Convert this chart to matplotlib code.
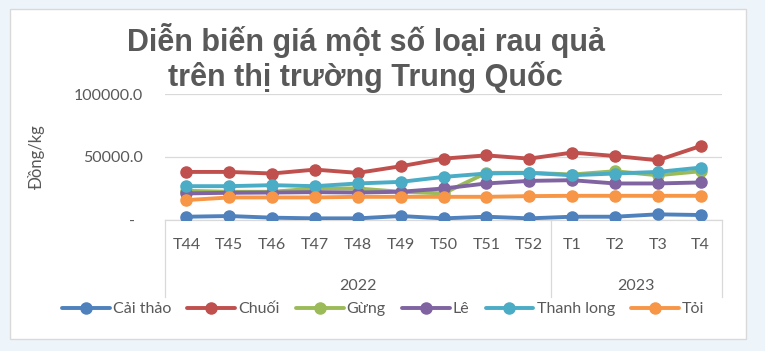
import matplotlib.pyplot as plt
import matplotlib.transforms as mtransforms
from matplotlib.patches import Rectangle

weeks = ["T44", "T45", "T46", "T47", "T48", "T49", "T50", "T51", "T52", "T1", "T2", "T3", "T4"]
years = ["2022", "2023"]
n_2022 = 9

cai_thao = [2600, 3150, 1850, 1300, 1300, 3150, 1300, 2600, 1300, 2600, 2600, 4500, 3950]
chuoi = [38150, 38150, 36900, 40000, 37400, 42650, 48700, 51300, 48700, 53500, 50800, 47400, 58700]
gung = [23150, 22400, 22400, 25000, 25000, 22400, 21100, 37400, 37500, 36100, 38700, 35500, 38700]
le = [21100, 21600, 21800, 22100, 21800, 22400, 25000, 29000, 31050, 31600, 29000, 29000, 29800]
thanh_long = [26850, 26850, 27650, 26850, 29000, 30250, 34200, 36900, 37400, 35500, 36900, 38150, 41600]
toi = [15800, 17900, 17900, 17900, 18400, 18400, 18400, 18400, 18950, 19200, 19200, 19200, 19200]

series = [
    ("Cải thảo", cai_thao, "#4F81BD"),
    ("Chuối", chuoi, "#C0504D"),
    ("Gừng", gung, "#9BBB59"),
    ("Lê", le, "#8064A2"),
    ("Thanh long", thanh_long, "#4BACC6"),
    ("Tỏi", toi, "#F79646"),
]

txt = "#595959"
plt.rcParams["font.family"] = ["Lato", "DejaVu Sans"]

fig = plt.figure(figsize=(7.65, 3.51), dpi=100)
fig.patch.set_facecolor("#EEF5FA")
fig.patches.append(Rectangle((10 / 765, 1 - 339 / 351), 736 / 765, 330 / 351,
                             transform=fig.transFigure, facecolor="white",
                             edgecolor="#D9D9D9", linewidth=1, zorder=-5))

ax = fig.add_axes([165 / 765, 1 - 220 / 351, 557 / 765, 126 / 351])
ax.set_facecolor("none")

x = list(range(len(weeks)))
for name, vals, col in series:
    ax.plot(x, vals, color=col, lw=2.8, marker="o", ms=8, label=name,
            solid_capstyle="round")

ax.set_xlim(-0.5, len(weeks) - 0.5)
ax.set_ylim(0, 100000)
ax.set_yticks([0, 50000, 100000])
ax.set_yticklabels(["-  ", "50000.0", "100000.0"])
ax.yaxis.grid(True, color="#D9D9D9", lw=0.9)
ax.set_axisbelow(True)
for s in ax.spines.values():
    s.set_visible(False)
ax.tick_params(axis="y", length=0, pad=16, labelsize=11.5, labelcolor=txt)
ax.set_xticks(x)
ax.set_xticklabels(weeks)
ax.tick_params(axis="x", length=0, pad=13, labelsize=11.5, labelcolor=txt)
ax.set_ylabel("Đồng/kg", fontsize=12, color=txt)
ax.yaxis.set_label_coords(-0.215, 0.5)

# multi-level category box
tr = mtransforms.blended_transform_factory(ax.transData, ax.transAxes)
lc = "#D9D9D9"
ax.plot([-0.5, len(weeks) - 0.5], [0, 0], color=lc, lw=0.9, transform=tr, clip_on=False, zorder=1)
for xv in [-0.5, n_2022 - 0.5, len(weeks) - 0.5]:
    ax.plot([xv, xv], [0, -0.61], color=lc, lw=0.9, transform=tr, clip_on=False, zorder=1)
ax.text((n_2022 - 1) / 2, -0.52, years[0], transform=tr, ha="center", va="center",
        fontsize=11.5, color=txt)
ax.text((n_2022 + len(weeks) - 1) / 2, -0.52, years[1], transform=tr, ha="center",
        va="center", fontsize=11.5, color=txt)

title_font = dict(ha="center", va="baseline", fontsize=22, fontweight="bold", color=txt,
                  family=["Liberation Sans", "DejaVu Sans"])
fig.text(366 / 765, 1 - 51 / 351, "Diễn biến giá một số loại rau quả", **title_font)
fig.text(365 / 765, 1 - 86 / 351, "trên thị trường Trung Quốc", **title_font)

fig.legend(loc="center", bbox_to_anchor=(383 / 765, 1 - 309 / 351), ncol=6,
           frameon=False, fontsize=11.5, labelcolor=txt, handlelength=3.0,
           handletextpad=0.2, columnspacing=1.0, borderaxespad=0)

fig.savefig("out.png", dpi=100, facecolor=fig.get_facecolor())
